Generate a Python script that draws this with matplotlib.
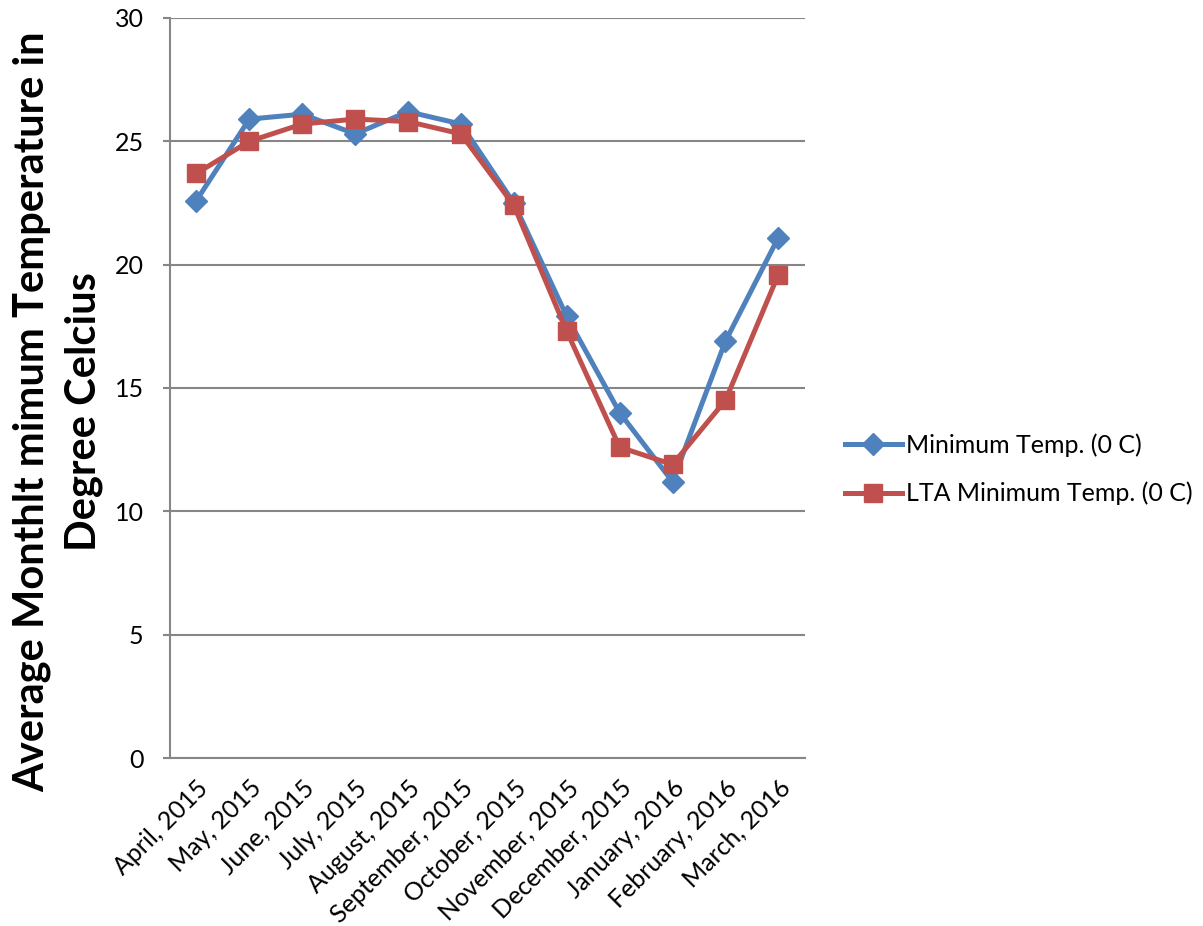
import matplotlib.pyplot as plt

plt.rcParams.update({
    'font.family': ['Lato', 'DejaVu Sans'],
    'figure.facecolor': 'white',
    'axes.facecolor': 'white',
})

# monthly minimum temperatures (deg C)
months = ['April, 2015', 'May, 2015', 'June, 2015', 'July, 2015',
          'August, 2015', 'September, 2015', 'October, 2015',
          'November, 2015', 'December, 2015', 'January, 2016',
          'February, 2016', 'March, 2016']
min_temp = [22.6, 25.9, 26.1, 25.3, 26.2, 25.7, 22.5, 17.9, 14.0, 11.2, 16.9, 21.1]
lta_min_temp = [23.7, 25.0, 25.7, 25.9, 25.8, 25.3, 22.4, 17.3, 12.6, 11.9, 14.5, 19.6]
yticks = [0, 5, 10, 15, 20, 25, 30]

BLUE = '#4F81BD'
RED = '#C0504D'
GRID = '#868686'

fig = plt.figure(figsize=(12.03, 9.26), dpi=100)
ax = fig.add_axes([0.1413, 0.1814, 0.5277, 0.7992])

x = list(range(len(months)))
ax.plot(x, min_temp, color=BLUE, linewidth=3.6, marker='D', markersize=11,
        label='Minimum Temp. (0 C)', zorder=3)
ax.plot(x, lta_min_temp, color=RED, linewidth=3.6, marker='s', markersize=13,
        label='LTA Minimum Temp. (0 C)', zorder=4)

ax.set_xlim(-0.5, len(months) - 0.5)
ax.set_ylim(0, 30)
ax.set_yticks(yticks)
ax.set_yticklabels([str(v) for v in yticks], fontsize=18)
ax.set_xticks(x)
ax.set_xticklabels(months, rotation=45, ha='right', rotation_mode='anchor',
                   fontsize=18)

ax.yaxis.grid(True, color=GRID, linewidth=1.5)
ax.set_axisbelow(True)
for s in ['top', 'right']:
    ax.spines[s].set_visible(False)
for s in ['left', 'bottom']:
    ax.spines[s].set_color(GRID)
    ax.spines[s].set_linewidth(1.5)
ax.tick_params(axis='y', length=5, width=1.5, color=GRID, pad=14)
ax.tick_params(axis='x', length=0, pad=13)

ax.set_ylabel('Average Monthlt mimum Temperature in\nDegree Celcius',
              fontsize=30, fontweight='bold', linespacing=1.42)
ax.yaxis.set_label_coords(-0.1055, 0.4676)

ax.legend(loc='center left', bbox_to_anchor=(1.047, 0.39), frameon=False,
          borderaxespad=0, fontsize=18, handlelength=2.3, handletextpad=0.15,
          labelspacing=1.0)

fig.savefig('out.png', dpi=100)
